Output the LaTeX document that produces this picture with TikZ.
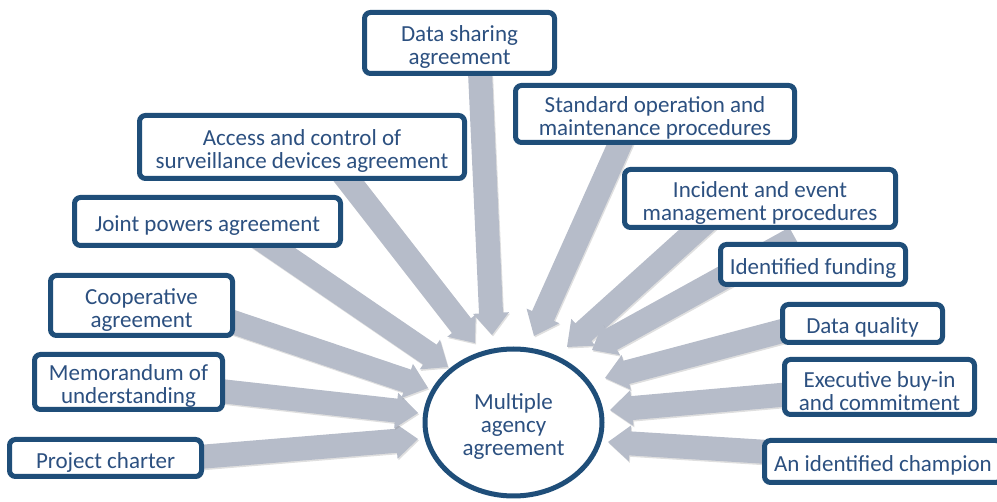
\documentclass[tikz,border=0pt]{standalone}
\usepackage{fontspec}
\setmainfont{Carlito}
\usetikzlibrary{calc,shapes.geometric,shadows}
\definecolor{boxblue}{RGB}{31,78,121}
\definecolor{txtblue}{RGB}{44,80,128}
\definecolor{arrgray}{RGB}{182,188,201}
\newcommand\tp{\rule{0pt}{24pt}}
\tikzset{
  box/.style={draw=boxblue, line width=5pt, rounded corners=6pt, fill=white,
    text=txtblue, font=\fontsize{23}{23}\selectfont, align=center, inner sep=0pt,
    drop shadow={opacity=0.3, shadow xshift=1.5pt, shadow yshift=-2.5pt}},
  hub/.style={ellipse, draw=boxblue, line width=5pt, fill=white,
    text=txtblue, font=\fontsize{23}{23}\selectfont, align=center, inner sep=0pt,
    minimum width=177pt, minimum height=147pt},
  blk/.style={fill=arrgray, drop shadow={opacity=0.25, shadow xshift=1pt, shadow yshift=-1.5pt}}
}
\newcommand\blkarrow[2]{%
  \path ($(#2)!22pt!(#1)$) coordinate (hb);
  \path[blk] ($(#1)!12pt!90:(#2)$) -- ($(hb)!12pt!90:(#2)$) -- ($(hb)!18pt!90:(#2)$)
    -- (#2) -- ($(hb)!18pt!-90:(#2)$) -- ($(hb)!12pt!-90:(#2)$)
    -- ($(#1)!12pt!-90:(#2)$) -- cycle;
}
\begin{document}
\begin{tikzpicture}[x=1pt,y=-1pt]
\useasboundingbox (0,0) rectangle (997,502);
\clip (0,0) rectangle (997,502);
% arrow tails and tips
\coordinate (pc-t) at (150,461);     \coordinate (pc-h) at (418,439);
\coordinate (mou-t) at (180,386.5);  \coordinate (mou-h) at (418,413);
\coordinate (coop-t) at (190,307.6); \coordinate (coop-h) at (428,388);
\coordinate (jpa-t) at (230,218);    \coordinate (jpa-h) at (448,367);
\coordinate (acc-t) at (320,144);    \coordinate (acc-h) at (475,343);
\coordinate (dsa-t) at (479,50);     \coordinate (dsa-h) at (492,335);
\coordinate (sop-t) at (633,115);    \coordinate (sop-h) at (534,336);
\coordinate (iem-t) at (730,200);    \coordinate (iem-h) at (567,347);
\coordinate (fund-t) at (795,238);   \coordinate (fund-h) at (592,350);
\coordinate (dq-t) at (820,321);     \coordinate (dq-h) at (605,378);
\coordinate (exec-t) at (820,391.5); \coordinate (exec-h) at (610,410);
\coordinate (champ-t) at (800,454);  \coordinate (champ-h) at (608,442);
% block arrows
\blkarrow{pc-t}{pc-h}
\blkarrow{mou-t}{mou-h}
\blkarrow{coop-t}{coop-h}
\blkarrow{jpa-t}{jpa-h}
\blkarrow{acc-t}{acc-h}
\blkarrow{dsa-t}{dsa-h}
\blkarrow{sop-t}{sop-h}
\blkarrow{iem-t}{iem-h}
\blkarrow{fund-t}{fund-h}
\blkarrow{dq-t}{dq-h}
\blkarrow{exec-t}{exec-h}
\blkarrow{champ-t}{champ-h}
% boxes
\node[box, minimum width=192pt, minimum height=37pt] (pc) at (105.5,458) {\tp Project charter};
\node[box, minimum width=188pt, minimum height=55pt] (mou) at (128.5,382) {\tp Memorandum of\\understanding};
\node[box, minimum width=182pt, minimum height=60pt] (coop) at (141.5,305.5) {\tp Cooperative\\agreement};
\node[box, minimum width=266pt, minimum height=48pt] (jpa) at (207.5,221.5) {\tp Joint powers agreement};
\node[box, minimum width=325pt, minimum height=63pt] (acc) at (302,147) {\tp Access and control of\\surveillance devices agreement};
\node[box, minimum width=190pt, minimum height=61pt] (dsa) at (459.5,43) {\tp Data sharing\\agreement};
\node[box, minimum width=279pt, minimum height=57pt] (sop) at (655,114) {\tp Standard operation and\\maintenance procedures};
\node[box, minimum width=271pt, minimum height=58pt] (iem) at (760,198.5) {\tp Incident and event\\management procedures};
\node[box, minimum width=185pt, minimum height=40pt] (fund) at (813,264.5) {\tp Identified funding};
\node[box, minimum width=160pt, minimum height=38pt] (dq) at (862.5,323.5) {\tp Data quality};
\node[box, minimum width=190pt, minimum height=55pt] (exec) at (879.5,387) {\tp Executive buy-in\\and commitment};
\node[box, minimum width=237pt, minimum height=42pt] (champ) at (883,461.5) {\tp An identified champion};
\node[hub] (maa) at (513.5,422.5) {\tp Multiple\\agency\\agreement};
\end{tikzpicture}
\end{document}
